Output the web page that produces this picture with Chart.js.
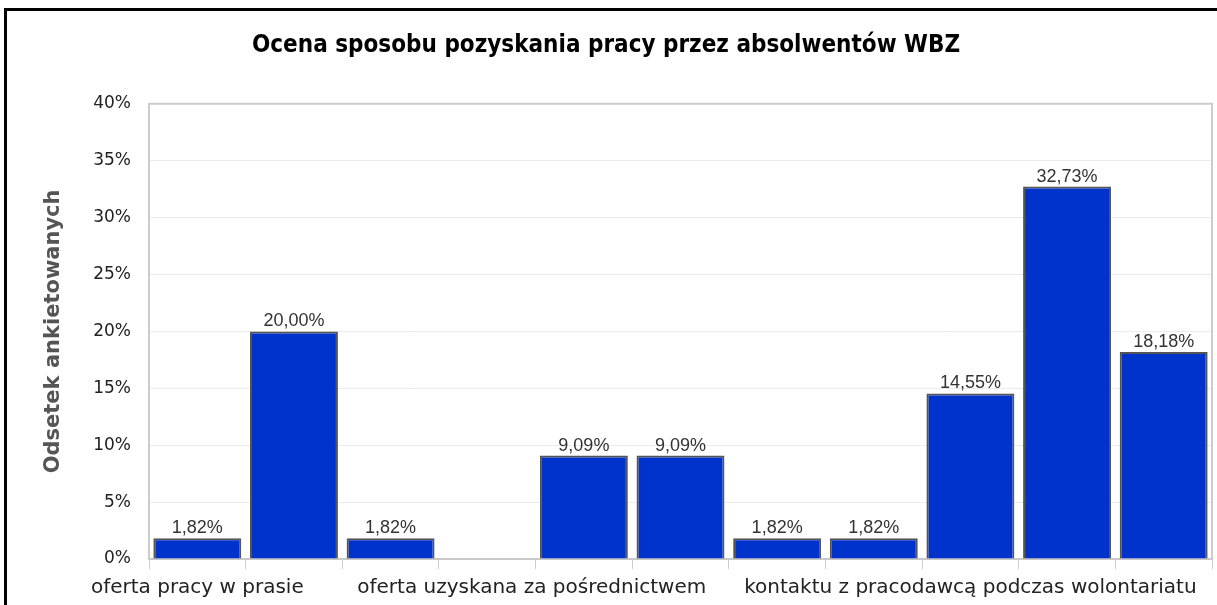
<!DOCTYPE html>
<html>
<head>
<meta charset="utf-8">
<script src="https://cdn.jsdelivr.net/npm/chart.js@4/dist/chart.umd.min.js"></script>
<style>
  html, body { margin: 0; padding: 0; background: #fff; overflow: hidden; }
  #frame { position: absolute; left: 4px; top: 8px; width: 1400px; height: 800px; border: 3px solid #000; }
  #wrap { position: absolute; left: 0; top: 0; width: 1217px; height: 605px; }
</style>
</head>
<body>
<div id="frame"></div>
<div id="wrap"><canvas id="chart" width="1217" height="605"></canvas></div>
<script>
// labels as they appear under the axis (the others are hidden in the source picture)
const categories = [
  'oferta pracy w prasie', '', '', 'oferta uzyskana za pośrednictwem', '', '',
  '', '', 'kontaktu z pracodawcą podczas wolontariatu', '', ''
];
const values = [1.82, 20.00, 1.82, 0, 9.09, 9.09, 1.82, 1.82, 14.55, 32.73, 18.18];
const yTicks = [0, 5, 10, 15, 20, 25, 30, 35, 40];

const chartTitle = 'Ocena sposobu pozyskania pracy przez absolwentów WBZ';
const yTitle = 'Odsetek ankietowanych';

// the middle label sits between two bars in the original
const labelShift = { 3: 14 };

const barLabels = {
  id: 'barLabels',
  afterDatasetsDraw(chart) {
    const ctx = chart.ctx;
    const meta = chart.getDatasetMeta(0);
    ctx.save();
    ctx.font = '18px "Liberation Sans", Arial, sans-serif';
    ctx.fillStyle = '#333';
    ctx.textAlign = 'center';
    ctx.textBaseline = 'bottom';
    meta.data.forEach((bar, i) => {
      if (!values[i]) return;
      ctx.fillText(values[i].toFixed(2).replace('.', ',') + '%', bar.x, bar.y - 1);
    });
    ctx.restore();
  }
};

const plotFrame = {
  id: 'plotFrame',
  beforeDatasetsDraw(chart) {
    const a = chart.chartArea;
    const ctx = chart.ctx;
    ctx.save();
    ctx.strokeStyle = '#cccccc';
    ctx.lineWidth = 2;
    ctx.beginPath();
    ctx.moveTo(a.left, a.top);
    ctx.lineTo(a.right, a.top);
    ctx.lineTo(a.right, a.bottom);
    ctx.stroke();
    ctx.restore();
  }
};

new Chart(document.getElementById('chart'), {
  type: 'bar',
  data: {
    labels: categories,
    datasets: [{
      data: values,
      backgroundColor: '#0033cc',
      borderColor: '#555555',
      borderWidth: 2,
      categoryPercentage: 1,
      barPercentage: 0.91
    }]
  },
  options: {
    responsive: false,
    animation: false,
    layout: { padding: { left: 0, right: 5, top: 0, bottom: 0 } },
    plugins: {
      legend: { display: false },
      tooltip: { enabled: false },
      title: {
        display: true,
        text: chartTitle,
        color: '#000',
        font: { family: '"DejaVu Sans Condensed", "Liberation Sans", sans-serif', size: 24, weight: 'bold', lineHeight: 1.2 },
        padding: { top: 31, bottom: 44 }
      }
    },
    scales: {
      x: {
        grid: { offset: true, drawOnChartArea: false, drawTicks: true, tickLength: 10, color: '#cccccc' },
        border: { color: '#c8c8c8', width: 2 },
        ticks: {
          autoSkip: false,
          maxRotation: 0,
          padding: 7,
          color: '#222',
          font: { family: '"DejaVu Sans", sans-serif', size: 20 },
          callback: (v, i) => ' '.repeat(labelShift[i] || 0) + categories[i]
        },
        afterFit: (scale) => { scale.height = 46; }
      },
      y: {
        min: 0,
        max: 40,
        afterBuildTicks: (scale) => { scale.ticks = yTicks.map(v => ({ value: v })); },
        grid: { color: '#ebebeb', lineWidth: 1, drawTicks: false },
        border: { color: '#cccccc', width: 2 },
        ticks: {
          padding: 18,
          color: '#222',
          font: { family: '"DejaVu Sans", sans-serif', size: 17 },
          callback: (v) => v + '%'
        },
        title: {
          display: true,
          text: yTitle,
          color: '#555',
          font: { family: '"DejaVu Sans", sans-serif', size: 21, weight: 'bold', lineHeight: 1.2 },
          padding: { top: 41, bottom: 0 }
        },
        afterFit: (scale) => { scale.width = 149; }
      }
    }
  },
  plugins: [barLabels, plotFrame]
});
</script>
</body>
</html>
